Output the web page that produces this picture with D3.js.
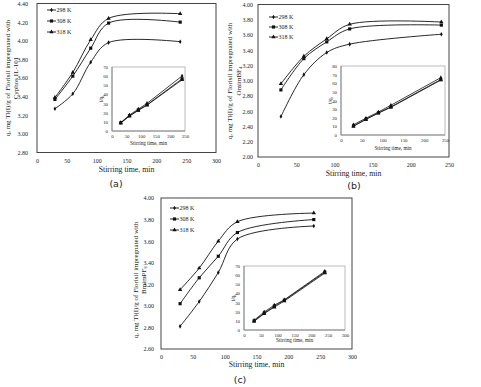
<!DOCTYPE html>
<html>
<head>
<meta charset="utf-8">
<script src="https://cdn.jsdelivr.net/npm/d3@7"></script>
<style>
body { margin: 0; background: #fff; }
text { font-family: "Liberation Serif", "Times New Roman", serif; fill: #222; }
.lab { font-family: "DejaVu Sans", "Liberation Sans", sans-serif; }
</style>
</head>
<body>
<div id="fig"></div>
<script>
var times = [30, 60, 90, 120, 240];
var temps = ['298 K', '308 K', '318 K'];

// (a) Cyphos IL-101
var qA298 = [3.27, 3.43, 3.77, 3.98, 3.99];
var qA308 = [3.37, 3.62, 3.92, 4.19, 4.20];
var qA318 = [3.39, 3.66, 4.01, 4.24, 4.29];
var tqA298 = [9.2, 17.5, 23.9, 30.2, 60.2];
var tqA308 = [8.9, 16.6, 23.0, 28.6, 57.1];
var tqA318 = [8.8, 16.4, 22.4, 28.3, 56.0];
var yTicksA = ['2.80', '3.00', '3.20', '3.40', '3.60', '3.80', '4.00', '4.20', '4.40'];
var xTicksA = ['0', '50', '100', '150', '200', '250', '300'];
var inYTicksA = ['0', '10', '20', '30', '40', '50', '60', '70'];
var inXTicksA = ['0', '50', '100', '150', '200', '250'];

// (b) OmimBF4
var qB298 = [2.53, 3.08, 3.37, 3.48, 3.61];
var qB308 = [2.88, 3.29, 3.51, 3.68, 3.73];
var qB318 = [2.96, 3.32, 3.55, 3.74, 3.77];
var tqB298 = [11.9, 19.5, 26.7, 34.5, 66.5];
var tqB308 = [10.4, 18.2, 25.6, 32.6, 64.3];
var tqB318 = [10.1, 18.1, 25.4, 32.1, 63.7];
var yTicksB = ['2.00', '2.20', '2.40', '2.60', '2.80', '3.00', '3.20', '3.40', '3.60', '3.80', '4.00'];
var xTicksB = ['0', '50', '100', '150', '200', '250'];
var inYTicksB = ['0', '10', '20', '30', '40', '50', '60', '70', '80'];
var inXTicksB = ['0', '50', '100', '150', '200', '250'];

// (c) BmimPF6
var qC298 = [2.81, 3.04, 3.31, 3.62, 3.74];
var qC308 = [3.02, 3.26, 3.46, 3.68, 3.80];
var qC318 = [3.15, 3.35, 3.60, 3.78, 3.86];
var tqC298 = [10.7, 19.7, 27.2, 33.1, 64.2];
var tqC308 = [9.9, 18.4, 26.0, 32.6, 63.2];
var tqC318 = [9.5, 17.9, 25.0, 31.7, 62.2];
var yTicksC = ['2.60', '2.80', '3.00', '3.20', '3.40', '3.60', '3.80', '4.00'];
var xTicksC = ['0', '50', '100', '150', '200', '250', '300'];
var inYTicksC = ['0', '10', '20', '30', '40', '50', '60', '70'];
var inXTicksC = ['0', '50', '100', '150', '200', '250', '300'];

var symbols = [d3.symbolDiamond, d3.symbolSquare, d3.symbolTriangle];
var symSize = [6, 10, 8];

var panels = [
  { lab: '(a)', q: [qA298, qA308, qA318], tq: [tqA298, tqA308, tqA318],
    xt: xTicksA, yt: yTicksA, ixt: inXTicksA, iyt: inYTicksA,
    box: [37, 216, 3.5, 152.5], yPad: 9, sub: ['Cyphos IL-101', ''],
    ttl: [7, 15, 78], xTitleY: 172, labX: 116, labY: 187, leg: [47, 10, 11],
    inBox: [112, 185, 67, 131], inTitleY: 145 },
  { lab: '(b)', q: [qB298, qB308, qB318], tq: [tqB298, tqB308, tqB318],
    xt: xTicksB, yt: yTicksB, ixt: inXTicksB, iyt: inYTicksB,
    box: [258, 449, 4.5, 157], yPad: 5, sub: ['OmimBF', '4'],
    ttl: [229, 238, 81], xTitleY: 176, labX: 354, labY: 189, leg: [269, 17, 10],
    inBox: [341, 445, 66, 135], inTitleY: 150 },
  { lab: '(c)', q: [qC298, qC308, qC318], tq: [tqC298, tqC308, tqC318],
    xt: xTicksC, yt: yTicksC, ixt: inXTicksC, iyt: inYTicksC,
    box: [161, 352, 198, 349], yPad: 7, sub: ['BmimPF', '6'],
    ttl: [135, 143, 280], xTitleY: 367, labX: 240, labY: 383, leg: [170, 208, 11],
    inBox: [244, 345, 266, 330], inTitleY: 342 }
];

var svg = d3.select('#fig').append('svg')
  .attr('width', 481)
  .attr('height', 387);

panels.forEach(function(p) {
  var g = svg.append('g');
  var b = p.box;
  var x = d3.scaleLinear().domain([0, +p.xt[p.xt.length - 1]]).range([b[0], b[1]]);
  var y = d3.scaleLinear().domain([+p.yt[0], +p.yt[p.yt.length - 1]]).range([b[3], b[2]]);

  // plot frame
  g.append('rect')
    .attr('x', b[0]).attr('y', b[2])
    .attr('width', b[1] - b[0]).attr('height', b[3] - b[2])
    .attr('fill', 'none').attr('stroke', '#444').attr('stroke-width', 1);

  var ya = g.append('g').attr('transform', 'translate(' + b[0] + ',0)')
    .call(d3.axisLeft(y).tickValues(p.yt.map(Number)).tickFormat(d3.format('.2f'))
      .tickSize(0).tickPadding(p.yPad));
  var xa = g.append('g').attr('transform', 'translate(0,' + b[3] + ')')
    .call(d3.axisBottom(x).tickValues(p.xt.map(Number)).tickSize(0).tickPadding(6));
  [ya, xa].forEach(function(a) {
    a.select('.domain').remove();
    a.selectAll('text').attr('font-size', 6).attr('font-family', null);
  });

  // titles
  g.append('text').attr('x', (b[0] + b[1]) / 2).attr('y', p.xTitleY)
    .attr('text-anchor', 'middle').attr('font-size', 7.8).text('Stirring time, min');
  g.append('text').attr('class', 'lab').attr('x', p.labX).attr('y', p.labY)
    .attr('text-anchor', 'middle').attr('font-size', 9.5).text(p.lab);

  var t1 = g.append('text').attr('font-size', 7)
    .attr('text-anchor', 'middle')
    .attr('transform', 'translate(' + (p.ttl[0] + 2.5) + ',' + p.ttl[2] + ') rotate(-90)')
    .text('q, mg Tl(I)/g of Florisil impregnated with');
  var t2 = g.append('text').attr('font-size', 7)
    .attr('text-anchor', 'middle')
    .attr('transform', 'translate(' + (p.ttl[1] + 2.5) + ',' + p.ttl[2] + ') rotate(-90)');
  t2.append('tspan').text(p.sub[0]);
  if (p.sub[1]) t2.append('tspan').attr('font-size', 5).attr('dy', 1.5).text(p.sub[1]);

  // main curves
  var line = d3.line()
    .x(function(d, i) { return x(times[i]); })
    .y(function(d) { return y(d); })
    .curve(d3.curveCatmullRom.alpha(0.5));
  p.q.forEach(function(s, k) {
    g.append('path').attr('d', line(s))
      .attr('fill', 'none').attr('stroke', '#111').attr('stroke-width', 0.9);
    g.selectAll(null).data(s).enter().append('path')
      .attr('transform', function(d, i) { return 'translate(' + x(times[i]) + ',' + y(d) + ')'; })
      .attr('d', d3.symbol().type(symbols[k]).size(symSize[k]))
      .attr('fill', '#111');
  });

  // legend
  temps.forEach(function(t, k) {
    var ly = p.leg[1] + k * p.leg[2];
    g.append('line').attr('x1', p.leg[0]).attr('x2', p.leg[0] + 9)
      .attr('y1', ly).attr('y2', ly).attr('stroke', '#111').attr('stroke-width', 0.9);
    g.append('path').attr('transform', 'translate(' + (p.leg[0] + 4.5) + ',' + ly + ')')
      .attr('d', d3.symbol().type(symbols[k]).size(symSize[k])).attr('fill', '#111');
    g.append('text').attr('x', p.leg[0] + 9.5).attr('y', ly + 2)
      .attr('font-size', 6).text(t);
  });

  // inset
  var ib = p.inBox;
  var ix = d3.scaleLinear().domain([0, +p.ixt[p.ixt.length - 1]]).range([ib[0], ib[1]]);
  var iy = d3.scaleLinear().domain([0, +p.iyt[p.iyt.length - 1]]).range([ib[3], ib[2]]);
  g.append('rect').attr('x', ib[0]).attr('y', ib[2])
    .attr('width', ib[1] - ib[0]).attr('height', ib[3] - ib[2])
    .attr('fill', '#fff').attr('stroke', '#aaa').attr('stroke-width', 0.8);
  g.append('line').attr('x1', ib[0]).attr('x2', ib[0]).attr('y1', ib[2]).attr('y2', ib[3])
    .attr('stroke', '#777').attr('stroke-width', 0.8);
  g.append('line').attr('x1', ib[0]).attr('x2', ib[1]).attr('y1', ib[3]).attr('y2', ib[3])
    .attr('stroke', '#777').attr('stroke-width', 0.8);
  var iya = g.append('g').attr('transform', 'translate(' + ib[0] + ',0)')
    .call(d3.axisLeft(iy).tickValues(p.iyt.map(Number)).tickSize(0).tickPadding(4));
  var ixa = g.append('g').attr('transform', 'translate(0,' + ib[3] + ')')
    .call(d3.axisBottom(ix).tickValues(p.ixt.map(Number)).tickSize(0).tickPadding(4));
  [iya, ixa].forEach(function(a) {
    a.select('.domain').remove();
    a.selectAll('text').attr('font-size', 4.8).attr('font-family', null);
  });
  g.append('text').attr('x', (ib[0] + ib[1]) / 2).attr('y', p.inTitleY)
    .attr('text-anchor', 'middle').attr('font-size', 5.2).text('Stirring time, min');
  var it = g.append('text').attr('font-size', 5.2).attr('text-anchor', 'middle')
    .attr('transform', 'translate(' + (ib[0] - 9) + ',' + ((ib[2] + ib[3]) / 2) + ') rotate(-90)');
  it.append('tspan').text('t/q');
  it.append('tspan').attr('font-size', 3.8).attr('dy', 1).text('t');

  var iline = d3.line()
    .x(function(d, i) { return ix(times[i]); })
    .y(function(d) { return iy(d); });
  p.tq.forEach(function(s, k) {
    g.append('path').attr('d', iline(s))
      .attr('fill', 'none').attr('stroke', '#111').attr('stroke-width', 0.8);
    g.selectAll(null).data(s).enter().append('path')
      .attr('transform', function(d, i) { return 'translate(' + ix(times[i]) + ',' + iy(d) + ')'; })
      .attr('d', d3.symbol().type(symbols[k]).size(symSize[k]))
      .attr('fill', '#111');
  });
});
</script>
</body>
</html>
